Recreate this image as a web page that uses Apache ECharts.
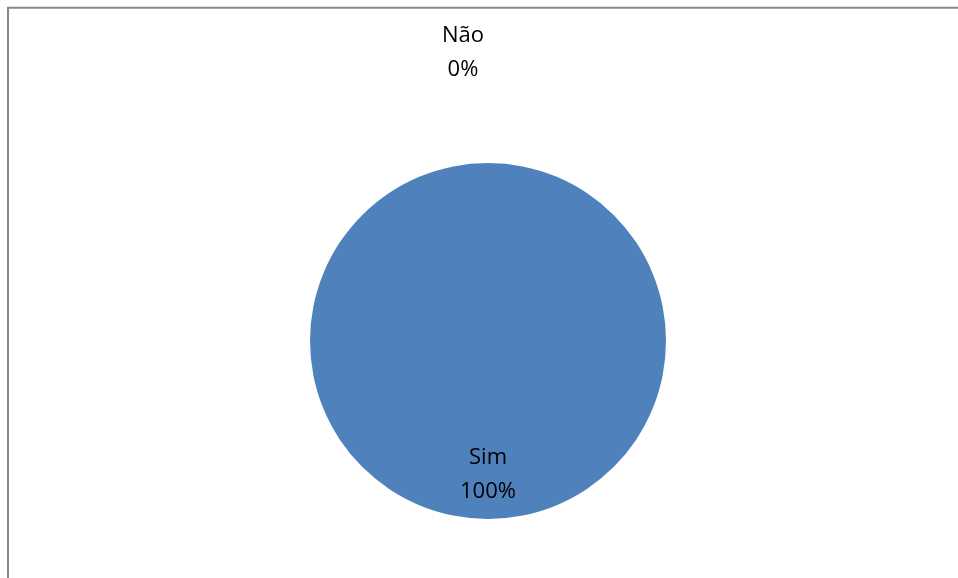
<!DOCTYPE html>
<html>
<head>
<meta charset="utf-8">
<script src="https://cdn.jsdelivr.net/npm/echarts@6/dist/echarts.min.js"></script>
<style>
html,body{margin:0;padding:0;background:#fff;}
#main{width:958px;height:578px;}
</style>
</head>
<body>
<div id="main"></div>
<script>
const categories = ['Sim', 'Não'];
const values = [100, 0];
const percentLabels = ['100%', '0%'];

const chart = echarts.init(document.getElementById('main'));
const data = categories.map((c, i) => ({
  name: c,
  value: values[i],
  label: i === 0
    ? { position: 'inside' }
    : { position: 'outside' }
}));

const CX = 488, CY = 341;

chart.setOption({
  animation: false,
  backgroundColor: '#ffffff',
  graphic: [{
    type: 'polyline',
    shape: { points: [[8, 600], [8, 7.7], [970, 7.7]] },
    style: { stroke: '#888888', lineWidth: 2, fill: null },
    silent: true
  }],
  series: [{
    type: 'pie',
    center: [CX, CY],
    radius: 178,
    startAngle: 90,
    clockwise: true,
    stillShowZeroSum: true,
    minShowLabelAngle: 0,
    avoidLabelOverlap: false,
    itemStyle: { color: '#4F81BD', borderWidth: 0 },
    label: {
      show: true,
      color: '#000000',
      fontFamily: 'Open Sans',
      fontSize: 22,
      lineHeight: 34,
      align: 'center',
      formatter: (p) => p.name + '\n' + percentLabels[p.dataIndex]
    },
    labelLine: { show: false, length: 78, length2: 0 },
    labelLayout: (p) => {
      if (p.dataIndex === 0) {
        return { dy: 42 };
      }
      return {
        x: CX - 25,
        y: p.labelRect.y + p.labelRect.height / 2 - 32,
        align: 'center',
        verticalAlign: 'middle'
      };
    },
    data: data
  }]
});
</script>
</body>
</html>
